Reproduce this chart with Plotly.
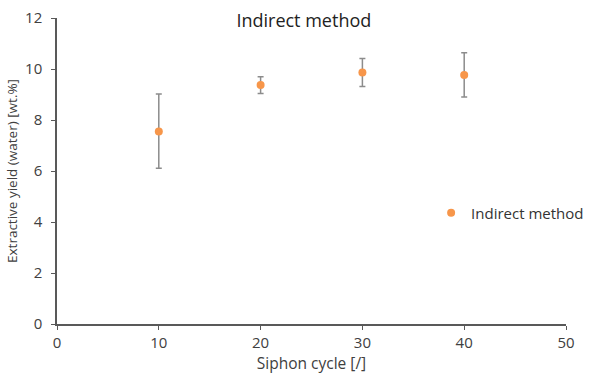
import plotly.graph_objects as go

cycles = [10, 20, 30, 40]
yield_vals = [7.55, 9.37, 9.86, 9.76]
err_plus = [1.47, 0.33, 0.55, 0.88]
err_minus = [1.44, 0.33, 0.55, 0.86]

fig = go.Figure()
fig.add_trace(go.Scatter(
    x=cycles, y=yield_vals, mode="markers", name="Indirect method",
    marker=dict(color="#F7964A", size=8),
    error_y=dict(type="data", array=err_plus, arrayminus=err_minus, symmetric=False,
                 color="#8C8C8C", thickness=1.5, width=3),
))

font = "Open Sans"
fig.update_layout(
    width=590, height=378,
    margin=dict(l=57, r=24, t=18, b=54, autoexpand=False),
    paper_bgcolor="white", plot_bgcolor="white",
    font=dict(family=font, color="#404040", size=12),
    title=dict(text="Indirect method", x=0.515, xanchor="center", y=0.945, yanchor="middle",
               font=dict(family=font, size=18, color="#222222")),
    showlegend=True,
    legend=dict(x=0.735, y=0.363, xanchor="left", yanchor="middle", itemwidth=30,
                font=dict(family=font, size=15, color="#333333"), bgcolor="rgba(0,0,0,0)"),
    xaxis=dict(range=[0, 50], dtick=10, showgrid=False, zeroline=False,
               showline=True, linecolor="#595959", linewidth=1.5,
               ticks="outside", ticklen=4, tickcolor="#595959",
               tickfont=dict(size=15, color="#404040"),
               title=dict(text="Siphon cycle [/]", font=dict(size=15.5, color="#404040"), standoff=6)),
    yaxis=dict(range=[0, 12], dtick=2, showgrid=False, zeroline=False,
               showline=True, linecolor="#595959", linewidth=1.5,
               ticks="outside", ticklen=4, tickcolor="#595959", ticklabelstandoff=6,
               tickfont=dict(size=15, color="#404040"),
               title=dict(text="Extractive yield (water) [wt.%]", font=dict(size=13.5, color="#404040"), standoff=4)),
)

fig.write_html("out.html")
